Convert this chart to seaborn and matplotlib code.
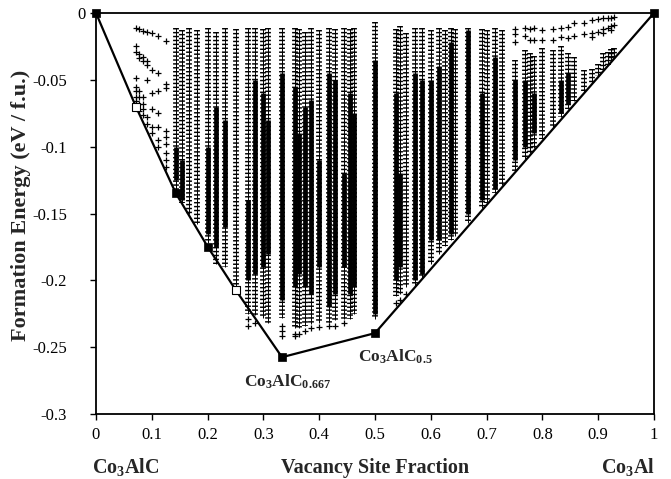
import matplotlib
matplotlib.use("Agg")
import matplotlib.pyplot as plt
from matplotlib.transforms import ScaledTranslation
import pandas as pd
import seaborn as sns

# ---- structure enumeration: formation energy vs. carbon-vacancy fraction ----
# columns of enumerated structures (vacancy fraction as n/d), each spanning a band
col_x = ["1/7", "2/13", "1/6", "2/11", "1/5", "3/14", "3/13", "1/4", "3/11", "2/7",
         "3/10", "4/13", "1/3", "5/14", "4/11", "3/8", "5/13", "2/5", "5/12", "3/7",
         "4/9", "5/11", "6/13", "1/2", "7/13", "6/11", "5/9", "4/7", "7/12", "3/5",
         "8/13", "5/8", "7/11", "9/14", "2/3", "9/13", "7/10", "5/7", "8/11", "3/4",
         "10/13", "7/9", "11/14", "4/5", "9/11", "5/6", "11/13", "6/7", "7/8", "8/9",
         "9/10", "10/11", "11/12", "12/13", "13/14"]
col_top = [-0.011, -0.013, -0.011, -0.013, -0.011, -0.014, -0.011, -0.012, -0.011, -0.011,
           -0.012, -0.011, -0.011, -0.011, -0.012, -0.014, -0.011, -0.013, -0.011, -0.012,
           -0.011, -0.012, -0.011, -0.007, -0.012, -0.010, -0.015, -0.011, -0.011, -0.013,
           -0.011, -0.013, -0.011, -0.012, -0.011, -0.012, -0.013, -0.011, -0.013, -0.035,
           -0.028, -0.030, -0.032, -0.026, -0.028, -0.025, -0.030, -0.033, -0.043, -0.042,
           -0.038, -0.030, -0.029, -0.027, -0.026]
col_bottom = [-0.133, -0.142, -0.150, -0.158, -0.172, -0.188, -0.190, -0.205, -0.225, -0.226,
              -0.228, -0.232, -0.228, -0.236, -0.236, -0.234, -0.233, -0.232, -0.232, -0.230,
              -0.229, -0.229, -0.225, -0.229, -0.212, -0.210, -0.205, -0.204, -0.198, -0.188,
              -0.180, -0.174, -0.170, -0.167, -0.157, -0.146, -0.142, -0.135, -0.129, -0.118,
              -0.109, -0.105, -0.101, -0.094, -0.086, -0.078, -0.072, -0.066, -0.059, -0.052,
              -0.047, -0.043, -0.039, -0.036, -0.033]

# densely populated stretches inside the columns
dense_x = ["2/13", "1/5", "3/14", "3/13", "3/11", "2/7", "3/10", "4/13", "1/3", "5/14",
           "4/11", "3/8", "5/13", "2/5", "5/12", "3/7", "5/11", "6/13", "1/2", "7/13",
           "6/11", "4/7", "7/12", "3/5", "8/13", "7/11", "2/3", "9/13", "5/7", "3/4",
           "10/13", "11/14", "5/6", "11/13", "4/9", "1/7"]
dense_top = [-0.110, -0.100, -0.070, -0.080, -0.140, -0.050, -0.060, -0.080, -0.045, -0.055,
             -0.090, -0.070, -0.065, -0.110, -0.045, -0.050, -0.060, -0.075, -0.035, -0.060,
             -0.120, -0.045, -0.050, -0.050, -0.040, -0.022, -0.013, -0.060, -0.033, -0.050,
             -0.050, -0.060, -0.050, -0.045, -0.120, -0.100]
dense_bottom = [-0.140, -0.165, -0.175, -0.160, -0.200, -0.195, -0.190, -0.180, -0.215, -0.205,
                -0.195, -0.205, -0.210, -0.190, -0.220, -0.210, -0.210, -0.205, -0.225, -0.200,
                -0.190, -0.200, -0.195, -0.170, -0.170, -0.165, -0.150, -0.140, -0.132, -0.110,
                -0.100, -0.090, -0.075, -0.068, -0.190, -0.125]

# isolated structures
pt_x = ["1/14", "1/13", "1/12", "1/11", "1/10", "1/9", "1/8",
        "1/14", "1/14", "1/13", "1/13", "1/12", "1/12", "1/11", "1/11", "1/10", "1/9",
        "1/14", "1/14", "1/14", "1/14", "1/14", "1/13", "1/13", "1/13", "1/13",
        "1/12", "1/12", "1/12", "1/12", "1/11", "1/11", "1/11",
        "1/10", "1/10", "1/10", "1/10", "1/9", "1/9", "1/9", "1/9", "1/9",
        "1/8", "1/8", "1/8", "1/8", "1/8", "1/8", "1/8", "1/8",
        "3/11", "3/11", "2/7", "1/3", "1/3", "1/3", "5/14", "5/14", "4/11", "3/8",
        "5/13", "2/5", "5/12", "3/7", "4/9", "7/13", "6/11", "5/9",
        "4/5", "9/11", "5/6", "11/13", "6/7", "7/8", "8/9", "9/10", "10/11", "11/12",
        "12/13", "13/14",
        "11/13", "6/7", "7/8", "8/9", "8/9", "9/10", "10/11", "10/11", "11/12", "12/13",
        "12/13", "13/14",
        "3/4", "3/4", "3/4", "10/13", "10/13", "7/9", "7/9", "11/14", "11/14", "4/5",
        "9/11", "5/6"]
pt_y = [-0.0115, -0.0122, -0.0132, -0.0145, -0.0152, -0.0170, -0.0207,
        -0.025, -0.029, -0.031, -0.034, -0.033, -0.036, -0.036, -0.039, -0.043, -0.045,
        -0.049, -0.055, -0.058, -0.063, -0.066, -0.058, -0.063, -0.068, -0.073,
        -0.063, -0.068, -0.072, -0.076, -0.050, -0.078, -0.083,
        -0.060, -0.072, -0.085, -0.090, -0.058, -0.075, -0.085, -0.095, -0.100,
        -0.053, -0.056, -0.088, -0.093, -0.098, -0.105, -0.110, -0.115,
        -0.234, -0.229, -0.232, -0.234, -0.238, -0.242, -0.240, -0.242, -0.240, -0.238,
        -0.236, -0.235, -0.234, -0.234, -0.232, -0.217, -0.215, -0.210,
        -0.0127, -0.0120, -0.0110, -0.0105, -0.0077, -0.0075, -0.0052, -0.0045, -0.0040, -0.0037,
        -0.0035, -0.0033,
        -0.0187, -0.0170, -0.0160, -0.0150, -0.0180, -0.0140, -0.0120, -0.0150, -0.0110, -0.0100,
        -0.0130, -0.0090,
        -0.012, -0.016, -0.022, -0.011, -0.017, -0.012, -0.020, -0.011, -0.020, -0.020,
        -0.020, -0.018]

# convex hull of ground states
hull_x = ["0", "1/14", "1/7", "1/5", "1/4", "1/3", "1/2", "1"]
hull_y = [0.0, -0.070, -0.1347, -0.1748, -0.207, -0.2575, -0.2395, 0.0]
hull_open = [False, True, False, False, True, False, False, False]

x_ticks = [0, 0.1, 0.2, 0.3, 0.4, 0.5, 0.6, 0.7, 0.8, 0.9, 1]
x_tick_labels = ["0", "0.1", "0.2", "0.3", "0.4", "0.5", "0.6", "0.7", "0.8", "0.9", "1"]
y_ticks = [0, -0.05, -0.1, -0.15, -0.2, -0.25, -0.3]
y_tick_labels = ["0", "-0.05", "-0.1", "-0.15", "-0.2", "-0.25", "-0.3"]


def frac(s):
    if "/" in s:
        n, d = s.split("/")
        return int(n) / int(d)
    return float(s)


cols = pd.DataFrame({"x": [frac(s) for s in col_x], "top": col_top, "bottom": col_bottom})
dense = pd.DataFrame({"x": [frac(s) for s in dense_x], "top": dense_top, "bottom": dense_bottom})
pts = pd.DataFrame({"x": [frac(s) for s in pt_x], "y": pt_y})
hull = pd.DataFrame({"x": [frac(s) for s in hull_x], "y": hull_y, "open": hull_open})

sns.set_style("ticks")
plt.rcParams["font.family"] = ["Liberation Serif", "DejaVu Serif"]
plt.rcParams["axes.unicode_minus"] = False
plt.rcParams["mathtext.fontset"] = "custom"
plt.rcParams["mathtext.rm"] = "Liberation Serif:bold"
plt.rcParams["mathtext.it"] = "Liberation Serif:italic:bold"
plt.rcParams["mathtext.bf"] = "Liberation Serif:bold"
plt.rcParams["mathtext.default"] = "rm"

W, H = 671, 479
fig = plt.figure(figsize=(W / 100, H / 100), dpi=100)
ax = fig.add_axes([96 / W, 65 / H, 558 / W, 401 / H])

# columns of stacked '+' markers: thin stem plus short horizontal bars
ax.vlines(cols["x"], cols["top"], cols["bottom"], colors="black", linewidth=0.7, zorder=2)
ax.vlines(cols["x"], cols["top"], cols["bottom"], colors="black", linewidth=4.2,
          linestyles=(0, (0.25, 0.42)), zorder=2)
ax.vlines(dense["x"], dense["top"], dense["bottom"], colors="black", linewidth=3.4, zorder=3)

sns.scatterplot(data=pts, x="x", y="y", marker="+", s=22, color="black",
                linewidth=0.9, ax=ax, zorder=3, legend=False)

sns.lineplot(data=hull, x="x", y="y", sort=False, estimator=None, color="black",
             linewidth=1.6, ax=ax, zorder=4, legend=False)
filled = hull[~hull["open"]]
hollow = hull[hull["open"]]
sns.scatterplot(data=filled, x="x", y="y", marker="s", s=30, color="black",
                edgecolor="black", linewidth=0.5, ax=ax, zorder=5, legend=False, clip_on=False)
sns.scatterplot(data=hollow, x="x", y="y", marker="s", s=30, facecolor="white",
                edgecolor="black", linewidth=0.8, ax=ax, zorder=5, legend=False, clip_on=False)

ax.set_xlim(0, 1)
ax.set_ylim(-0.3, 0)
ax.set_xticks(x_ticks)
ax.set_xticklabels(x_tick_labels)
ax.set_yticks(y_ticks)
ax.set_yticklabels(y_tick_labels)
ax.set_xlabel("")
ax.set_ylabel("")
for sp in ax.spines.values():
    sp.set_visible(True)
    sp.set_linewidth(1.3)
    sp.set_color("black")
ax.tick_params(axis="both", direction="out", length=4.3, width=1.0, colors="black",
               labelsize=12)
ax.tick_params(axis="x", pad=5)
ax.tick_params(axis="y", pad=16.5)
# top label sits closer to the axis
top_lbl = ax.get_yticklabels()[0]
top_lbl.set_transform(top_lbl.get_transform() + ScaledTranslation(0.19, 0, fig.dpi_scale_trans))

# phase annotations
ax.text(0.266, -0.2795, r"Co$_3$AlC$_{0.667}$", fontsize=12.5, fontweight="bold",
        ha="left", va="baseline", zorder=6)
ax.text(0.470, -0.2605, r"Co$_3$AlC$_{0.5}$", fontsize=12.5, fontweight="bold",
        ha="left", va="baseline", zorder=6)

# axis titles and end-member labels
fig.text(375 / W, 1 - 473 / H, "Vacancy Site Fraction", fontsize=14.5, fontweight="bold",
         ha="center", va="baseline")
fig.text(92 / W, 1 - 473 / H, r"Co$_3$AlC", fontsize=14.5, fontweight="bold",
         ha="left", va="baseline")
fig.text(655 / W, 1 - 473 / H, r"Co$_3$Al", fontsize=14.5, fontweight="bold",
         ha="right", va="baseline")
fig.text(21 / W, 1 - 205 / H, "Formation Energy (eV / f.u.)", fontsize=16,
         fontweight="bold", rotation=90, ha="center", va="center")

fig.savefig("out.png", dpi=100)
